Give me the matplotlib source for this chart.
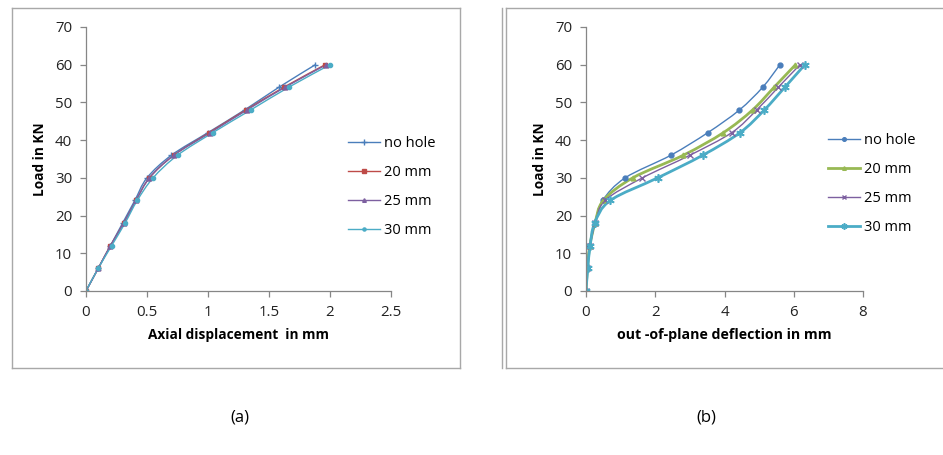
import numpy as np
import matplotlib
matplotlib.use("Agg")
import matplotlib.pyplot as plt
from matplotlib.lines import Line2D
from matplotlib.path import Path
from matplotlib.patches import PathPatch

plt.rcParams["font.family"] = ["Open Sans", "DejaVu Sans"]

# load steps (same for every curve)
load = [0, 6, 12, 18, 24, 30, 36, 42, 48, 54, 60]
labels = ["no hole", "20 mm", "25 mm", "30 mm"]

# (a) axial displacement in mm
axial_no_hole = [0, 0.10, 0.20, 0.30, 0.40, 0.50, 0.70, 1.00, 1.30, 1.58, 1.88]
axial_20 = [0, 0.10, 0.20, 0.31, 0.41, 0.52, 0.72, 1.01, 1.31, 1.62, 1.96]
axial_25 = [0, 0.10, 0.20, 0.31, 0.41, 0.52, 0.72, 1.02, 1.32, 1.63, 1.97]
axial_30 = [0, 0.10, 0.21, 0.32, 0.42, 0.55, 0.75, 1.04, 1.35, 1.66, 2.00]

# (b) out-of-plane deflection in mm
defl_no_hole = [0, 0.03, 0.10, 0.25, 0.48, 1.13, 2.45, 3.52, 4.43, 5.10, 5.60]
defl_20 = [0, 0.04, 0.11, 0.26, 0.50, 1.35, 2.81, 3.97, 4.81, 5.43, 6.05]
defl_25 = [0, 0.04, 0.12, 0.27, 0.55, 1.63, 3.00, 4.21, 4.93, 5.55, 6.18]
defl_30 = [0, 0.05, 0.12, 0.25, 0.70, 2.07, 3.37, 4.45, 5.15, 5.74, 6.32]

blue = "#4a7ebb"
red = "#be4b48"
purple = "#7d60a0"
teal = "#4bacc6"
green = "#98b954"
grey = "#868686"


def smooth_line(ax, x, y, color, lw, marker, ms, mew, label):
    # excel style smoothed line: bezier segments through the data points
    pts = np.column_stack([x, y]).astype(float)
    verts = [pts[0]]
    codes = [Path.MOVETO]
    n = len(pts)
    for i in range(n - 1):
        p0 = pts[i - 1] if i > 0 else pts[i]
        p3 = pts[i + 2] if i + 2 < n else pts[i + 1]
        c1 = pts[i] + (pts[i + 1] - p0) / 6
        c2 = pts[i + 1] - (p3 - pts[i]) / 6
        verts += [c1, c2, pts[i + 1]]
        codes += [Path.CURVE4] * 3
    ax.add_patch(PathPatch(Path(verts, codes), facecolor="none",
                           edgecolor=color, lw=lw, capstyle="round", joinstyle="round"))
    ax.plot(x, y, color=color, lw=lw, linestyle="none", marker=marker, ms=ms,
            mew=mew, label=label)


fig = plt.figure(figsize=(9.43, 4.55), dpi=100)

# panel frames
frame = "#a8a8a8"
for xs, ys in [([12, 460], [8, 8]), ([12, 460], [368, 368]), ([12, 12], [8, 368]),
               ([460, 460], [8, 368]), ([502, 502], [8, 368]), ([506, 506], [8, 368]),
               ([506, 943], [8, 8]), ([506, 943], [368, 368])]:
    fig.add_artist(Line2D([x / 943 for x in xs], [1 - y / 455 for y in ys],
                          color=frame, lw=1.0))

ax1 = fig.add_axes([86 / 943, 164 / 455, 305 / 943, 264 / 455])
ax2 = fig.add_axes([586 / 943, 164 / 455, 277 / 943, 264 / 455])

# (a)
smooth_line(ax1, axial_no_hole, load, blue, 1.0, "+", 5, 1.0, labels[0])
smooth_line(ax1, axial_20, load, red, 1.0, "s", 3, 1.0, labels[1])
smooth_line(ax1, axial_25, load, purple, 1.0, "^", 3.5, 1.0, labels[2])
smooth_line(ax1, axial_30, load, teal, 1.0, "o", 3, 1.0, labels[3])
ax1.set_xlim(0, 2.5)
ax1.set_xticks([0, 0.5, 1, 1.5, 2, 2.5])
ax1.set_xticklabels(["0", "0.5", "1", "1.5", "2", "2.5"])
ax1.set_xlabel("Axial displacement  in mm", fontweight="bold", fontsize=9.8, labelpad=6)

# (b)
smooth_line(ax2, defl_no_hole, load, blue, 1.0, "o", 3.5, 1.0, labels[0])
smooth_line(ax2, defl_20, load, green, 2.0, "^", 3.5, 1.0, labels[1])
smooth_line(ax2, defl_25, load, purple, 1.0, "x", 4, 1.0, labels[2])
smooth_line(ax2, defl_30, load, teal, 2.0, (6, 2, 0), 6, 1.2, labels[3])
ax2.set_xlim(0, 8)
ax2.set_xticks([0, 2, 4, 6, 8])
ax2.set_xlabel("out -of-plane deflection in mm", fontweight="bold", fontsize=10.2, labelpad=6)

for ax in (ax1, ax2):
    ax.set_ylim(0, 70)
    ax.set_yticks(range(0, 71, 10))
    ax.set_ylabel("Load in KN", fontweight="bold", fontsize=9.8, labelpad=6)
    for s in ("top", "right"):
        ax.spines[s].set_visible(False)
    for s in ("left", "bottom"):
        ax.spines[s].set_color(grey)
        ax.spines[s].set_linewidth(0.9)
    ax.tick_params(direction="out", length=4, width=0.9, color=grey,
                   labelsize=10.8, labelcolor="#222222", pad=6)

# legend handles show the line together with a small marker
def handles(ax, widths, colors):
    out = []
    for ln, lw, c in zip(ax.get_lines(), widths, colors):
        out.append(Line2D([], [], color=c, lw=lw, marker=ln.get_marker(),
                          ms=ln.get_markersize() * 0.75, mew=ln.get_markeredgewidth()))
    return out

ax1.legend(handles(ax1, [1, 1, 1, 1], [blue, red, purple, teal]), labels,
           loc="center left", bbox_to_anchor=(348 / 943, 1 - 187 / 455),
           bbox_transform=fig.transFigure, frameon=False, fontsize=10.5,
           handlelength=2.2, handletextpad=0.3, labelspacing=0.95,
           borderpad=0, borderaxespad=0)
ax2.legend(handles(ax2, [1, 2, 1, 2], [blue, green, purple, teal]), labels,
           loc="center left", bbox_to_anchor=(828 / 943, 1 - 184 / 455),
           bbox_transform=fig.transFigure, frameon=False, fontsize=10.5,
           handlelength=2.2, handletextpad=0.3, labelspacing=0.95,
           borderpad=0, borderaxespad=0)

fig.text(240 / 943, 1 - 418 / 455, "(a)", ha="center", va="center", fontsize=12)
fig.text(706 / 943, 1 - 418 / 455, "(b)", ha="center", va="center", fontsize=12)

fig.savefig("out.png", dpi=100, facecolor="white")
